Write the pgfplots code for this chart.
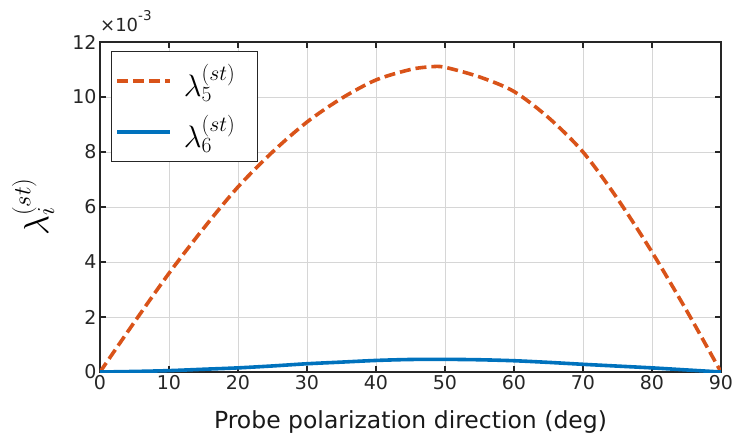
\RequirePackage{fix-cm}
\documentclass[border=0pt]{standalone}
\usepackage{fontspec}
\setmainfont{DejaVu Sans}
\usepackage{pgfplots}
\pgfplotsset{compat=1.18}

\definecolor{mred}{rgb}{0.85,0.325,0.098}
\definecolor{mblue}{rgb}{0,0.447,0.741}
\definecolor{maxis}{rgb}{0.15,0.15,0.15}

\begin{document}
\begin{tikzpicture}

	\begin{axis}[
		name			= ax,
		scale only axis,
		width			= 621pt,
		height			= 330pt,
		xmin			= 0,
		xmax			= 90,
		ymin			= 0,
		ymax			= 0.012,
		xtick			= {0,10,...,90},
		ytick			= {0,0.002,0.004,0.006,0.008,0.010,0.012},
		scaled y ticks	= base 10:3,
		ytick scale label code/.code = {},
		yticklabel style	= {/pgf/number format/fixed, /pgf/number format/precision=0},
		/pgf/number format/assume math mode = true,
		tick label style	= {font=\fontsize{19}{22}\selectfont, text=maxis},
		tick align		= inside,
		major tick length	= 6pt,
		tick style		= {line width=1.2pt, maxis},
		axis line style	= {line width=1.3pt, maxis},
		grid			= major,
		major grid style	= {line width=0.9pt, black!16},
		xlabel			= {Probe polarization direction (deg)},
		xlabel style	= {font=\fontsize{23.5}{26}\selectfont, text=black!90, at={(axis description cs:0.5,0)}, anchor=center, yshift=-50pt},
		ylabel			= {$\lambda_i^{(st)}$},
		ylabel style	= {font=\fontsize{35}{38}\selectfont, at={(axis description cs:0,0.5)}, anchor=center, yshift=67pt},
		legend style	= {at={(axis description cs:0.0177,0.973)}, anchor=north west,
							draw=maxis, line width=0.8pt, inner xsep=4pt, inner ysep=4pt,
							font=\fontsize{31}{33}\selectfont, row sep=0pt,
							nodes={inner sep=0pt, minimum height=51pt}},
		legend cell align	= left,
		legend image code/.code = {\draw[#1] (0pt,0pt) -- (53pt,0pt); \path (65pt,0pt);},
	]

		% lambda_5
		\addplot[color=mred, line width=3.6pt, dash pattern=on 11pt off 5pt, smooth, tension=0.5] coordinates {
			(0,0) (5,0.00182) (10,0.00359) (15,0.00522) (20,0.00673) (25,0.0080)
			(30,0.00909) (35,0.00995) (40,0.01062) (45,0.01100) (48,0.01110) (50,0.01108)
			(55,0.01073) (60,0.01020) (65,0.00925) (70,0.0080) (75,0.0063)
			(80,0.00436) (85,0.00224) (90,0)
		};
		\addlegendentry{$\lambda_5^{(st)}$\rule{18pt}{0pt}}

		% lambda_6
		\addplot[color=mblue, line width=3.6pt, smooth, tension=0.5] coordinates {
			(0,0) (5,0.00002) (10,0.00005) (15,0.00010) (20,0.00015) (25,0.00022)
			(30,0.00030) (35,0.00036) (40,0.00042) (45,0.000455) (50,0.00046)
			(55,0.000445) (60,0.00041) (65,0.00035) (70,0.00028) (75,0.000215)
			(80,0.00015) (85,0.000075) (90,0)
		};
		\addlegendentry{$\lambda_6^{(st)}$\rule{18pt}{0pt}}

	\end{axis}

	\node[anchor=base west, inner sep=0pt, text=maxis, font=\fontsize{18}{20}\selectfont]
		at ([yshift=10pt]ax.north west) {×10\raisebox{0.62em}{\fontsize{13.5}{15}\selectfont -3}};

	\pgfresetboundingbox
	\path[use as bounding box] (-100pt,-73pt) rectangle (636pt,372pt);

\end{tikzpicture}
\end{document}
